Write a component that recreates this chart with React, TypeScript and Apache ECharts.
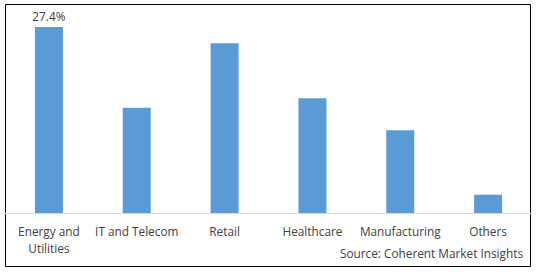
import React, { useEffect, useRef } from "react";
import * as echarts from "echarts";

const categories = ["Energy and Utilities", "IT and Telecom", "Retail", "Healthcare", "Manufacturing", "Others"];
const shares = [27.4, 15.5, 25.0, 16.9, 12.2, 2.7];
const labelledIndex = 0;
const sourceText = "Source: Coherent Market Insights";

export default function App() {
  const ref = useRef<HTMLDivElement>(null);
  useEffect(() => {
    if (!ref.current) return;
    const chart = echarts.init(ref.current, null, { renderer: "svg" });
    const font = "'Open Sans', sans-serif";
    chart.setOption({
      animation: false,
      backgroundColor: "#ffffff",
      grid: { left: 5, right: 6, top: 9.4, bottom: 59, containLabel: false },
      xAxis: {
        type: "category",
        data: categories,
        axisLine: { show: true, lineStyle: { color: "#d9d9d9", width: 1 } },
        axisTick: { show: false },
        axisLabel: {
          interval: 0,
          margin: 9,
          color: "#404040",
          fontSize: 11.8,
          fontFamily: font,
          lineHeight: 17,
          formatter: (v: string) => (v === "Energy and Utilities" ? "Energy and\nUtilities" : v),
        },
      },
      yAxis: {
        type: "value",
        min: 0,
        max: 30,
        show: false,
        splitLine: { show: false },
      },
      series: [
        {
          type: "bar",
          barWidth: 28,
          itemStyle: { color: "#5b9bd5" },
          data: shares.map((v, i) =>
            i === labelledIndex
              ? {
                  value: v,
                  label: {
                    show: true,
                    position: "top",
                    distance: 5,
                    formatter: "{c}%",
                    color: "#404040",
                    fontSize: 11.8,
                    fontFamily: font,
                  },
                }
              : v
          ),
        },
      ],
      graphic: [
        {
          type: "rect",
          shape: { x: 5.5, y: 4.5, width: 525, height: 262 },
          style: { fill: "none", stroke: "#000000", lineWidth: 1 },
          silent: true,
        },
        {
          type: "text",
          right: 15,
          top: 247,
          style: { text: sourceText, fill: "#404040", fontSize: 11.8, fontFamily: font },
        },
      ],
    });
    return () => chart.dispose();
  }, []);
  return <div ref={ref} style={{ position: "fixed", left: 0, top: 0, width: 538, height: 272 }} />;
}
